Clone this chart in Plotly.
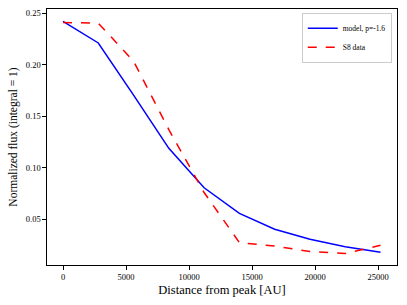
import plotly.graph_objects as go

distance = [0, 2800, 5600, 8400, 11200, 14000, 16800, 19600, 22400, 25200]
model_flux = [0.2422, 0.2212, 0.1705, 0.1189, 0.0806, 0.0557, 0.0403, 0.0306, 0.0234, 0.0180]
data_flux = [0.2410, 0.2405, 0.2035, 0.1370, 0.0760, 0.0273, 0.0240, 0.0186, 0.0167, 0.0248]
x_ticks = [0, 5000, 10000, 15000, 20000, 25000]
y_ticks = [0.05, 0.10, 0.15, 0.20, 0.25]

font_family = "Liberation Serif, DejaVu Serif, serif"

fig = go.Figure()
fig.add_trace(go.Scatter(x=distance, y=model_flux, mode="lines", name="model, p=-1.6",
                         line=dict(color="blue", width=1.5)))
fig.add_trace(go.Scatter(x=distance, y=data_flux, mode="lines", name="S8 data",
                         line=dict(color="red", width=1.5, dash="dash")))

axis_common = dict(showline=True, linecolor="black", linewidth=1.2, mirror=True,
                   ticks="outside", ticklen=3.5, tickwidth=0.8, tickcolor="black",
                   showgrid=False, zeroline=False,
                   tickfont=dict(family=font_family, size=8.5, color="black"))

fig.update_layout(
    width=407, height=305,
    margin=dict(l=47, r=10, t=9, b=40, autoexpand=False),
    paper_bgcolor="white", plot_bgcolor="white",
    font=dict(family=font_family, color="black"),
    xaxis=dict(range=[-1270, 26508], tickvals=x_ticks, ticktext=[str(v) for v in x_ticks],
               title=dict(text="Distance from peak [AU]", font=dict(size=12.5), standoff=4),
               **axis_common),
    yaxis=dict(range=[0.0056, 0.2542], tickvals=y_ticks, ticktext=[f"{v:.2f}" for v in y_ticks],
               title=dict(text="Normalized flux (integral = 1)", font=dict(size=11.5), standoff=5),
               **axis_common),
    legend=dict(x=0.985, y=0.985, xanchor="right", yanchor="top",
                bgcolor="rgba(255,255,255,0.8)", bordercolor="#cccccc", borderwidth=1,
                font=dict(family=font_family, size=7.5), tracegroupgap=0,
                itemwidth=30),
    showlegend=True,
)

fig.write_html("out.html", config={"displayModeBar": False},
               post_script="document.body.style.margin='0';document.body.style.padding='0';")
